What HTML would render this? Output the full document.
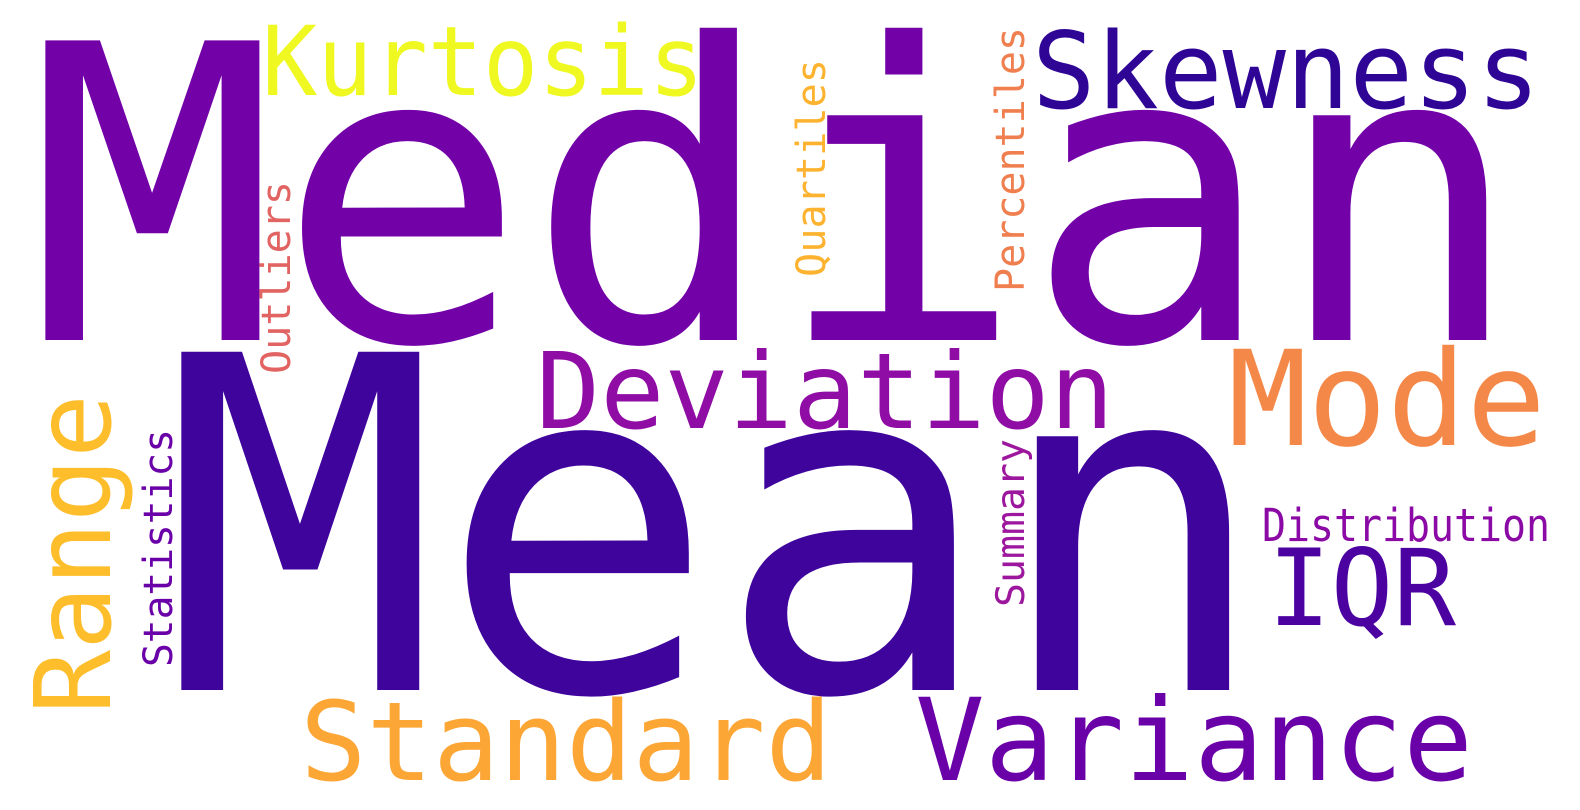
<!DOCTYPE html>
<html><head><meta charset="utf-8"><style>
html,body{margin:0;padding:0;background:#fff;}
svg{display:block}
text{font-family:"DejaVu Sans Mono","Liberation Mono",monospace;}
</style></head><body>
<svg width="1580" height="810" viewBox="0 0 1580 810">
<rect width="1580" height="810" fill="#fff"/>
<text x="28" y="340" font-size="411" fill="#7201a8" textLength="1495" lengthAdjust="spacingAndGlyphs">Median</text>
<text x="162" y="690" font-size="464" fill="#3e049c" textLength="1108" lengthAdjust="spacingAndGlyphs">Mean</text>
<text x="262" y="95" font-size="96" fill="#eff821" textLength="442" lengthAdjust="spacingAndGlyphs">Kurtosis</text>
<text x="1032" y="108" font-size="106" fill="#2f0596" textLength="508" lengthAdjust="spacingAndGlyphs">Skewness</text>
<text x="536" y="428" font-size="105" fill="#8f0da4" textLength="578" lengthAdjust="spacingAndGlyphs">Deviation</text>
<text x="1228" y="445" font-size="132" fill="#f48849" textLength="318" lengthAdjust="spacingAndGlyphs">Mode</text>
<text x="1268" y="625" font-size="106" fill="#4c02a1" textLength="188" lengthAdjust="spacingAndGlyphs">IQR</text>
<text x="1262" y="541" font-size="45" fill="#8b0aa5" textLength="288" lengthAdjust="spacingAndGlyphs">Distribution</text>
<text x="300" y="780" font-size="110" fill="#fca636" textLength="532" lengthAdjust="spacingAndGlyphs">Standard</text>
<text x="915" y="780" font-size="114" fill="#6a00a8" textLength="558" lengthAdjust="spacingAndGlyphs">Variance</text>
<text transform="translate(110,714) rotate(-90)" font-size="105" fill="#febd2a" textLength="320" lengthAdjust="spacingAndGlyphs">Range</text>
<text transform="translate(172,667) rotate(-90)" font-size="40" fill="#6a00a8" textLength="238" lengthAdjust="spacingAndGlyphs">Statistics</text>
<text transform="translate(290,374) rotate(-90)" font-size="40" fill="#e16462" textLength="193" lengthAdjust="spacingAndGlyphs">Outliers</text>
<text transform="translate(825,277) rotate(-90)" font-size="40" fill="#fdb32f" textLength="218" lengthAdjust="spacingAndGlyphs">Quartiles</text>
<text transform="translate(1024,292) rotate(-90)" font-size="40" fill="#f07f4f" textLength="265" lengthAdjust="spacingAndGlyphs">Percentiles</text>
<text transform="translate(1024,607) rotate(-90)" font-size="39" fill="#9c179e" textLength="168" lengthAdjust="spacingAndGlyphs">Summary</text>
</svg>
</body></html>
